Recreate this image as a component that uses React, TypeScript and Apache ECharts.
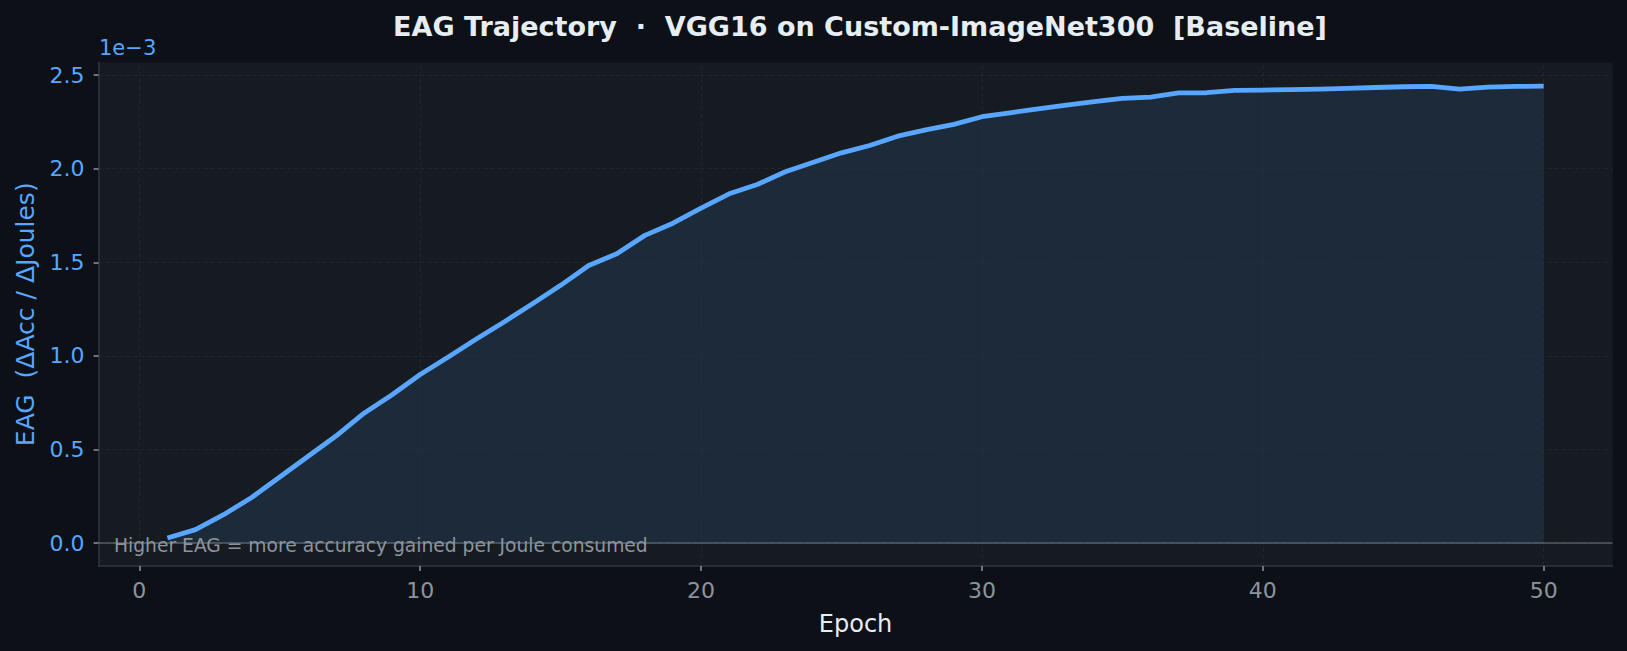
import React, { useEffect, useRef } from 'react';
import * as echarts from 'echarts';

// EAG per epoch, in units of 1e-3 (ΔAcc / ΔJoules)
const epochs = Array.from({ length: 50 }, (_, i) => i + 1);
const eagMilli = [
  0.027, 0.072, 0.152, 0.244, 0.353, 0.463, 0.572, 0.694, 0.793, 0.901,
  0.994, 1.09, 1.183, 1.279, 1.377, 1.483, 1.546, 1.644, 1.709, 1.79,
  1.866, 1.916, 1.984, 2.035, 2.085, 2.124, 2.174, 2.208, 2.237, 2.278,
  2.299, 2.32, 2.34, 2.358, 2.376, 2.383, 2.405, 2.406, 2.419, 2.42,
  2.423, 2.425, 2.429, 2.434, 2.438, 2.44, 2.425, 2.436, 2.44, 2.441,
];
const xTicks = [0, 10, 20, 30, 40, 50];
const yTicks = [0, 0.5, 1.0, 1.5, 2.0, 2.5];

const FONT = 'DejaVu Sans, sans-serif';
const BLUE = '#58a6ff';
const GRAY = '#8b949e';

export default function App() {
  const chartRef = useRef<HTMLDivElement>(null);

  useEffect(() => {
    document.body.style.margin = '0';
    if (!chartRef.current) return;
    const chart = echarts.init(chartRef.current, null, { renderer: 'svg' });

    const points = epochs.map((e, i) => [e, eagMilli[i]]);
    const gridLine = { color: 'rgba(48,54,61,0.4)', width: 1, type: [4, 3] as any };

    chart.setOption({
      animation: false,
      backgroundColor: '#0d1117',
      title: {
        text: 'EAG Trajectory  ·  VGG16 on Custom-ImageNet300  [Baseline]',
        left: 855,
        top: 8,
        textAlign: 'center',
        textStyle: { color: '#e6edf3', fontSize: 27, fontWeight: 'bold', fontFamily: FONT },
      },
      grid: {
        left: 98.6,
        right: 14.5,
        top: 62.5,
        bottom: 85,
        show: true,
        backgroundColor: '#161b22',
        borderWidth: 0,
      },
      xAxis: {
        type: 'value',
        min: -1.45,
        max: 52.45,
        name: 'Epoch',
        nameLocation: 'middle',
        nameGap: 46,
        nameTextStyle: { color: '#e6edf3', fontSize: 24, fontFamily: FONT },
        axisLine: { onZero: false, lineStyle: { color: '#30363d', width: 1.5 } },
        axisTick: { customValues: xTicks, length: 5, lineStyle: { color: GRAY, width: 1.5 } },
        axisLabel: {
          customValues: xTicks,
          color: GRAY,
          fontSize: 22,
          fontFamily: FONT,
          margin: 13,
        },
        splitLine: { show: false },
      },
      yAxis: {
        type: 'value',
        min: -0.1222,
        max: 2.5675,
        name: 'EAG  (ΔAcc / ΔJoules)',
        nameLocation: 'middle',
        nameRotate: 90,
        nameGap: 61,
        nameTextStyle: { color: BLUE, fontSize: 25, fontFamily: FONT },
        axisLine: { show: true, onZero: false, lineStyle: { color: '#30363d', width: 1.5 } },
        axisTick: { show: true, customValues: yTicks, length: 5, lineStyle: { color: GRAY, width: 1.5 } },
        axisLabel: {
          customValues: yTicks,
          color: BLUE,
          fontSize: 22,
          fontFamily: FONT,
          margin: 14,
          formatter: (v: number) => v.toFixed(1),
        },
        splitLine: { show: false },
      },
      series: [
        {
          type: 'line',
          data: points,
          symbol: 'none',
          z: 1,
          lineStyle: { width: 0 },
          areaStyle: { color: 'rgba(88,166,255,0.15)', origin: 0 },
          silent: true,
          markLine: {
            silent: true,
            symbol: 'none',
            label: { show: false },
            z: 2,
            data: [
              ...xTicks.map((v) => ({ xAxis: v, lineStyle: gridLine })),
              ...yTicks.map((v) => ({ yAxis: v, lineStyle: gridLine })),
              { yAxis: 0, lineStyle: { color: 'rgba(139,148,158,0.55)', width: 1.6, type: 'solid' } },
            ],
          },
        },
        {
          type: 'line',
          data: points,
          symbol: 'none',
          z: 10,
          lineStyle: { color: BLUE, width: 4.8, join: 'round', cap: 'butt' },
        },
      ],
      graphic: [
        {
          type: 'text',
          left: 99,
          top: 37,
          style: { text: '1e\u22123', fill: BLUE, fontSize: 21, fontFamily: FONT },
        },
        {
          type: 'text',
          left: 114,
          top: 536,
          z: 20,
          style: {
            text: 'Higher EAG = more accuracy gained per Joule consumed',
            fill: GRAY,
            fontSize: 18.7,
            fontFamily: FONT,
          },
        },
      ],
    });

    return () => {
      chart.dispose();
    };
  }, []);

  return <div ref={chartRef} style={{ width: 1627, height: 651 }} />;
}
